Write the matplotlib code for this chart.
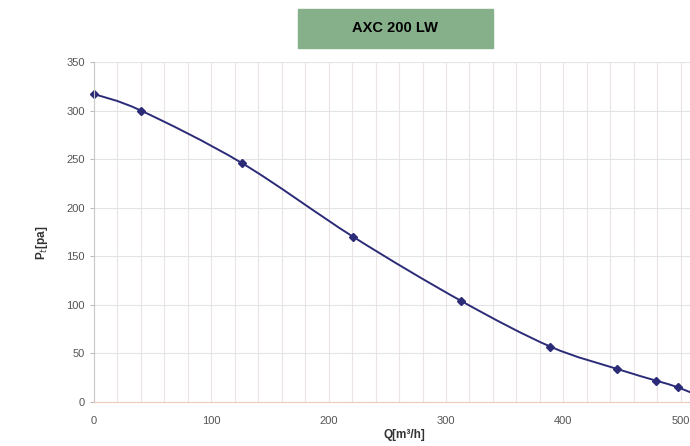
import matplotlib
matplotlib.use('Agg')
import matplotlib.pyplot as plt
from matplotlib.path import Path
from matplotlib.patches import PathPatch, Rectangle
import numpy as np

plt.rcParams['font.family'] = ['Liberation Sans', 'DejaVu Sans']

flow = [0, 40, 126, 221, 313, 389, 446, 479, 498, 520]
pressure = [317, 300, 246, 170, 104, 57, 34, 22, 15, 4]
marker_idx = list(range(9))  # last point only carries the line off the edge
title = 'AXC 200 LW'
xticks = [0, 100, 200, 300, 400, 500]
yticks = [0, 50, 100, 150, 200, 250, 300, 350]

line_col = '#2b2b78'


def smooth_path(x, y, k=0.5):
    # Excel-like smoothed line: catmull-rom converted to cubic bezier segments
    x = np.asarray(x, float)
    y = np.asarray(y, float)
    verts = [(x[0], y[0])]
    codes = [Path.MOVETO]
    n = len(x)
    for i in range(n - 1):
        p0 = (x[max(i - 1, 0)], y[max(i - 1, 0)])
        p1 = (x[i], y[i])
        p2 = (x[i + 1], y[i + 1])
        p3 = (x[min(i + 2, n - 1)], y[min(i + 2, n - 1)])
        c1 = (p1[0] + (p2[0] - p0[0]) * k / 3, p1[1] + (p2[1] - p0[1]) * k / 3)
        c2 = (p2[0] - (p3[0] - p1[0]) * k / 3, p2[1] - (p3[1] - p1[1]) * k / 3)
        verts += [c1, c2, p2]
        codes += [Path.CURVE4] * 3
    return Path(verts, codes)


fig = plt.figure(figsize=(6.9, 4.46), dpi=100)
W, H = 690, 446
x_max = 508
ax = fig.add_axes([94 / W, 44 / H, 596 / W, 340 / H])
ax.set_xlim(0, x_max)
ax.set_ylim(0, 350)

ax.set_xticks(np.arange(0, x_max, 20), minor=True)
ax.set_xticks(xticks)
ax.set_yticks(yticks)
ax.grid(True, which='both', axis='x', color='#ece4e4', lw=0.8)
ax.grid(True, which='major', axis='y', color='#e4e4e4', lw=0.8)
ax.set_axisbelow(True)

ax.tick_params(axis='both', which='major', labelsize=8, labelcolor='#555555',
               color='#bbbbbb', length=3)
ax.tick_params(axis='x', which='minor', length=0)
ax.tick_params(axis='x', pad=10, length=0)

for s in ['top', 'right']:
    ax.spines[s].set_visible(False)
ax.spines['left'].set_color('#c8c8c8')
ax.spines['bottom'].set_color('#f0c8b8')

ax.add_patch(PathPatch(smooth_path(flow, pressure), fill=False,
                       edgecolor=line_col, lw=1.4, clip_on=True))
ax.plot([flow[i] for i in marker_idx], [pressure[i] for i in marker_idx],
        ls='none', marker='D', ms=4, color=line_col, clip_on=False)

ax.set_xlabel('Q[m³/h]', fontsize=8.5, fontweight='bold', color='#333333')
ax.xaxis.set_label_coords((404 - 94) / 596, -(429 - 402) / 340)
ax.set_ylabel('P$_t$[pa]', fontsize=8.5, fontweight='bold', color='#333333')
ax.yaxis.set_label_coords(-(94 - 50) / 596, (402 - 243) / 340)

fig.patches.append(Rectangle((298 / W, 1 - 48 / H), 195 / W, 39 / H,
                             transform=fig.transFigure, color='#86b08a',
                             zorder=0))
fig.text(395 / W, 1 - 28 / H, title, ha='center', va='center',
         fontsize=10.5, fontweight='bold', color='black')

fig.savefig('out.png', dpi=100)
